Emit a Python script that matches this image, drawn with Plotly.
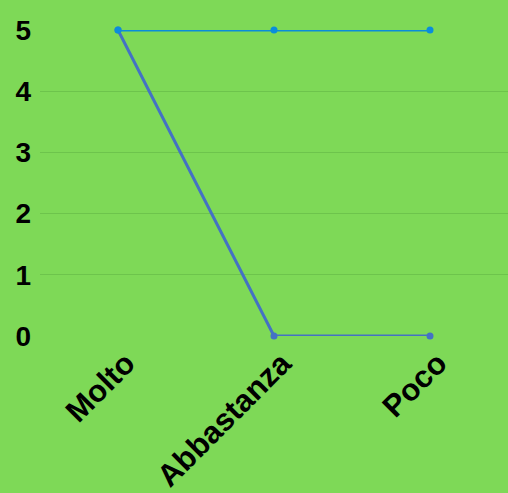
import plotly.graph_objects as go

categories = ["Molto", "Abbastanza", "Poco"]
series_a = [5, 0, 0]
series_b = [5, 5, 5]

fig = go.Figure()
fig.add_trace(go.Scatter(
    x=categories, y=series_a, mode="lines+markers",
    line=dict(color="#4472C4", width=3),
    marker=dict(size=7, color="#4472C4"),
    cliponaxis=False, showlegend=False
))
fig.add_trace(go.Scatter(
    x=categories, y=series_b, mode="lines+markers",
    line=dict(color="#0A8DDB", width=3),
    marker=dict(size=7, color="#0A8DDB"),
    cliponaxis=False, showlegend=False
))

fig.update_layout(
    width=508, height=493,
    paper_bgcolor="#7ED957", plot_bgcolor="#7ED957",
    margin=dict(l=40, r=0, t=30, b=157),
    font=dict(family="Liberation Sans, Arial, sans-serif", size=28, color="black"),
    xaxis=dict(
        tickangle=-45, showgrid=False, zeroline=False,
        tickfont=dict(size=31, weight="bold"),
        range=[-0.5, 2.5],
        ticklabelshift=8,
        ticklabelstandoff=2,
        automargin=False,
    ),
    yaxis=dict(
        range=[0, 5], dtick=1, gridcolor="#6DC44C", gridwidth=1,
        zeroline=False, tickfont=dict(size=28, weight="bold"),
        ticklabelstandoff=8,
        automargin=False,
    ),
)

fig.write_html(
    "out.html",
    config={"displayModeBar": False},
    post_script="document.body.style.margin='0';document.body.style.background='#7ED957';",
)
